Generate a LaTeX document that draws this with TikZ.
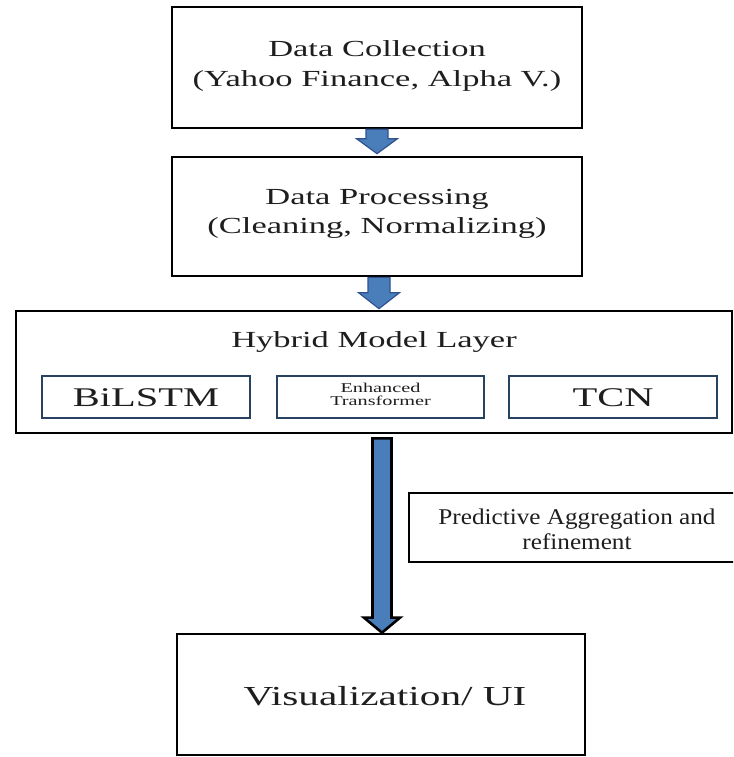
\documentclass[tikz,border=0pt]{standalone}
\usepackage{fontspec}
\setmainfont{Liberation Serif}
\newfontfamily\widefont[FakeStretch=1.5]{Liberation Serif}
\newfontfamily\normfont[FakeStretch=1.12]{Liberation Serif}
\usetikzlibrary{calc}
\definecolor{arrowblue}{RGB}{74,126,187}
\definecolor{arrowedge}{RGB}{47,82,143}
\definecolor{innerblue}{RGB}{40,66,98}
\definecolor{textgray}{RGB}{30,30,30}
\newcommand\blockarr[6]{%
  \draw[#1] let \p1=#2, \p2=#3 in
    (\x2-#4,\y1) -- (\x2+#4,\y1) -- (\x2+#4,\y2+#6) -- (\x2+#5,\y2+#6) --
    (\x2,\y2) -- (\x2-#5,\y2+#6) -- (\x2-#4,\y2+#6) -- cycle;}
\begin{document}
\begin{tikzpicture}[x=1pt,y=-1pt,
  box/.style={draw=black, line width=2.7pt, fill=white, inner sep=0pt},
  innerbox/.style={draw=innerblue, line width=2.8pt, inner sep=0pt},
  txt/.style={inner sep=0pt, anchor=base, text=textgray},
  wide/.style={font=\widefont\fontsize{#1}{#1}\selectfont},
  smallarrow/.style={fill=arrowblue, draw=arrowedge, line width=1.2pt, line join=miter},
  bigarrow/.style={fill=arrowblue, draw=black, line width=2.6pt, line join=miter}]
\useasboundingbox (0,0) rectangle (733,757);
\clip (0,0) rectangle (733,757);
\fill[white] (0,0) rectangle (733,757);

% boxes
\node[box, minimum width=410pt, minimum height=121pt] (dc) at (377,67.5) {};
\node[box, minimum width=410pt, minimum height=119pt] (dp) at (377,216.5) {};
\node[box, minimum width=716pt, minimum height=122pt] (hy) at (374,372) {};
\node[innerbox, minimum width=208pt, minimum height=42pt] (bi) at (146,397) {};
\node[innerbox, minimum width=207pt, minimum height=42pt] (et) at (380.5,397) {};
\node[innerbox, minimum width=208pt, minimum height=42pt] (tc) at (613,397) {};
\node[box, line width=2.2pt, minimum width=340pt, minimum height=69pt] (pa) at (579,527.5) {};
\node[box, minimum width=408pt, minimum height=121pt] (vi) at (381,694.5) {};

% texts
\node[txt, wide=23] (dct1) at (377,57) {Data Collection};
\node[txt, wide=23] (dct2) at (377,86.5) {(Yahoo Finance, Alpha V.)};
\node[txt, wide=23] (dpt1) at (377,204) {Data Processing};
\node[txt, wide=23] (dpt2) at (377,233) {(Cleaning, Normalizing)};
\node[txt, wide=23] (hyt) at (374,347) {Hybrid Model Layer};
\node[txt, wide=27] (bit) at (146,406) {BiLSTM};
\node[txt, wide=13.5] (ett1) at (380.5,392) {Enhanced};
\node[txt, wide=13.5] (ett2) at (380.5,405) {Transformer};
\node[txt, wide=27] (tct) at (613,406) {TCN};
\node[txt, font=\normfont\fontsize{22.5}{22.5}\selectfont] (pat1) at (577,524) {Predictive Aggregation and};
\node[txt, font=\normfont\fontsize{22.5}{22.5}\selectfont] (pat2) at (577,549) {refinement};
\node[txt, wide=27.5] (vit) at (385,705) {Visualization/ UI};

% connectors
\coordinate (a1top) at (dc.south);
\coordinate (a1tip) at ($(dp.north)+(0,-2)$);
\coordinate (a2top) at ($(dp.south)+(2,0)$);
\coordinate (a2tip) at ($(hy.north)+(5,-1)$);
\coordinate (a3top) at ($(hy.south)+(8,4)$);
\coordinate (a3tip) at ($(vi.north)+(1,0)$);
\blockarr{smallarrow}{(a1top)}{(a1tip)}{11pt}{20.5pt}{15pt}
\blockarr{smallarrow}{(a2top)}{(a2tip)}{11pt}{20.5pt}{16pt}
\blockarr{bigarrow}{(a3top)}{(a3tip)}{9.5pt}{18pt}{15pt}
\end{tikzpicture}
\end{document}
